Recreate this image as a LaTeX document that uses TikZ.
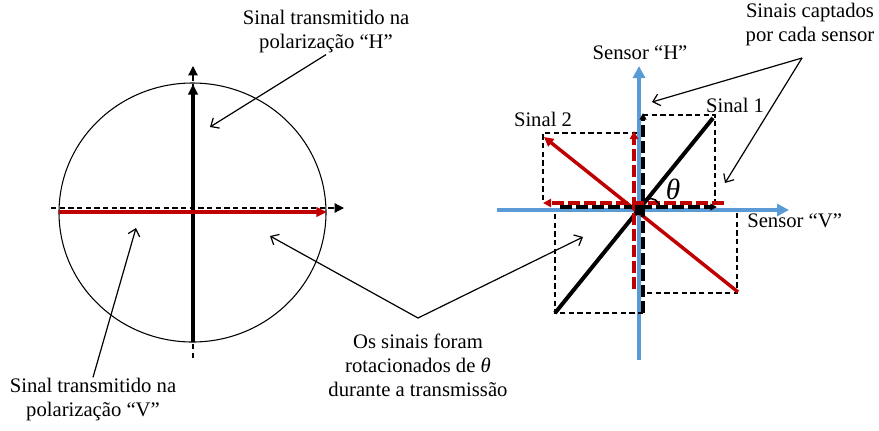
\documentclass[tikz,border=0pt]{standalone}
\usepackage{fontspec}
\setmainfont{Liberation Serif}
\usetikzlibrary{arrows,arrows.meta}
\definecolor{sigred}{RGB}{192,0,0}
\definecolor{sensblue}{RGB}{91,155,213}

\begin{document}
\begin{tikzpicture}[x=0.75pt,y=0.75pt,yscale=-1,xscale=1,
  lbl/.style={font=\fontsize{15.5}{18}\selectfont,align=center,inner sep=0.75pt},
  callout/.style={line width=0.9pt,-{Straight Barb[length=5pt,width=9pt]}},
  headtip/.style={-{Triangle[length=8pt,width=7pt]}},
  thindash/.style={line width=0.9pt,dash pattern=on 4pt off 2.5pt},
  thickdash/.style={line width=3.4pt,dash pattern=on 9pt off 3pt}]
\path[use as bounding box] (0,0) rectangle (879,430);

%Shape: Ellipse (left figure)
\draw [line width=0.8pt] (192.5,212.5) ellipse (133.5 and 129.5);
%Dashed axes
\draw [thindash,-{Triangle[length=7pt,width=7pt]}] (193,358) -- (193,66);
\draw [thindash,-{Triangle[length=7pt,width=7pt]}] (51,208) -- (344,208);
%Transmitted signals
\draw [line width=3pt,headtip] (193,342) -- (193,84);
\draw [sigred,line width=2.6pt,headtip] (59,212) -- (327,212);

%Sensor axes
\draw [sensblue,line width=2.6pt,-{Triangle[length=9pt,width=9pt]}] (639,360) -- (639,66);
\draw [sensblue,line width=2.6pt,-{Triangle[length=9pt,width=9pt]}] (497,210) -- (789,210);

%Projection boxes
\draw [thindash] (643,115) -- (715,115) -- (715,206);
\draw [thindash] (555,214) -- (555,313) -- (643,313);
\draw [thindash] (637,133) -- (543,133) -- (543,202);
\draw [thindash] (737,213) -- (737,293) -- (643,293);

%Signal 1 and signal 2
\draw [line width=3pt] (555,313) -- (713,118);
\draw [sigred,line width=2.6pt,-{Triangle[length=7pt,width=7pt]}] (738,292) -- (544,137);

%Components
\draw [thickdash,-{Triangle[length=5pt,width=5pt]}] (643,313) -- (643,113);
\draw [thickdash,-{Triangle[length=5pt,width=5pt]}] (560,207) -- (717,207);
\draw [sigred,thickdash,-{Triangle[length=6pt,width=6pt]}] (634,289) -- (634,131);
\draw [sigred,thickdash,-{Triangle[length=6pt,width=6pt]}] (724,203) -- (543,203);
\fill (635,205) rectangle (645,215);

%Curve Lines (angle)
\draw [line width=1.2pt] (646,200) .. controls (653,196) and (660,201) .. (660,209) ;

% Text Node
\node [lbl] (txH) at (326,32) {Sinal transmitido na\\polarização “H”};
\node [lbl] (txV) at (93,400) {Sinal transmitido na\\polarização “V”};
\node [lbl] (txRot) at (418,365) {Os sinais foram\\rotacionados de \textit{θ}\\durante a transmissão};
\node [lbl] (txSens) at (810,25) {Sinais captados\\por cada sensor};
\node [lbl] (snH) at (640,53) {Sensor “H”};
\node [lbl,anchor=west] (snV) at (746,221) {Sensor “V”};
\node [lbl] (sig1) at (735,105) {Sinal 1};
\node [lbl] (sig2) at (543,119) {Sinal 2};
\node [inner sep=0.75pt,font=\fontsize{22}{22}\selectfont] (ang) at (673,189) {\textit{θ}};

%Callouts
\coordinate (hTip) at (210,127);
\coordinate (vTip) at (136,228);
\coordinate (rotApex) at (418,318);
\coordinate (circTip) at (270,236);
\coordinate (crossTip) at (583,237);
\coordinate (sensApex) at (802,58);
\coordinate (axisTip) at (652,102);
\coordinate (boxTip) at (725,183);
\draw [callout] (txH.south) -- (hTip);
\draw [callout] (txV.north) -- (vTip);
\draw [callout] (rotApex) -- (circTip);
\draw [callout] (rotApex) -- (crossTip);
\draw [callout] (sensApex) -- (axisTip);
\draw [callout] (sensApex) -- (boxTip);

\end{tikzpicture}
\end{document}
